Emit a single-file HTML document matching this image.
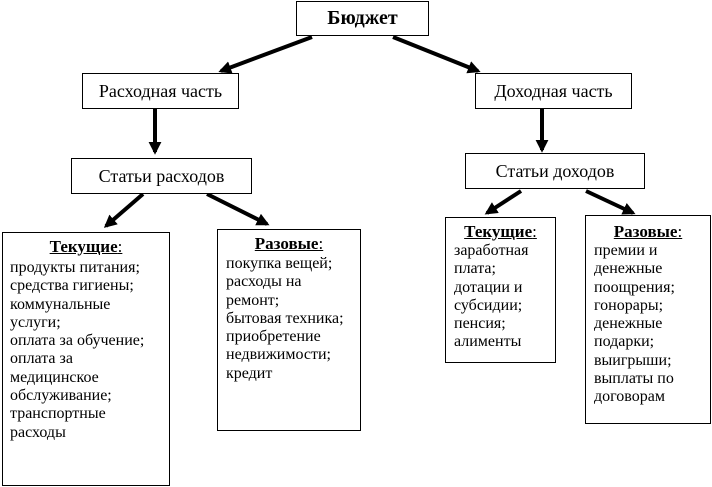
<!DOCTYPE html>
<html><head><meta charset="utf-8"><style>
body{margin:0;width:712px;height:487px;background:#fff;position:relative;overflow:hidden;font-family:"Liberation Serif",serif;color:#000}
.b{position:absolute;border:1px solid #000;box-sizing:border-box;background:#fff}
.c{display:flex;align-items:center;justify-content:center;font-size:18px;white-space:nowrap}
.t{position:absolute;font-size:16px;line-height:18.3px;white-space:nowrap}
.h{position:absolute;font-size:17px;font-weight:bold;text-decoration:underline;white-space:nowrap;text-align:center}
.h span{font-weight:normal;text-decoration:none}
svg{position:absolute;left:0;top:0}
</style></head><body>
<svg width="712" height="487">
<defs><marker id="a" markerWidth="3.2" markerHeight="3.2" refX="2.5" refY="1.6" orient="auto" markerUnits="strokeWidth"><path d="M0,0 L3.2,1.6 L0,3.2z" fill="#000"/></marker></defs>
<g stroke="#000" stroke-width="4" marker-end="url(#a)">
<line x1="312" y1="37" x2="221" y2="71"/>
<line x1="393" y1="37" x2="478" y2="71"/>
<line x1="155" y1="108" x2="155" y2="152"/>
<line x1="542" y1="109" x2="542" y2="150"/>
<line x1="143" y1="194" x2="106" y2="226"/>
<line x1="207" y1="194" x2="267" y2="224"/>
<line x1="521" y1="191" x2="487" y2="213"/>
<line x1="586" y1="191" x2="633" y2="213"/>
</g></svg>
<div class="b c" style="left:296px;top:1px;width:133px;height:35px;font-weight:bold;font-size:20px">Бюджет</div>
<div class="b c" style="left:82px;top:73px;width:157px;height:36px">Расходная часть</div>
<div class="b c" style="left:475px;top:73px;width:157px;height:36px">Доходная часть</div>
<div class="b c" style="left:71px;top:158px;width:181px;height:36px">Статьи расходов</div>
<div class="b c" style="left:465px;top:153px;width:180px;height:36px">Статьи доходов</div>

<div class="b" style="left:2px;top:232px;width:168px;height:254px"></div>
<div class="h" style="left:2px;top:237px;width:168px">Текущие<span>:</span></div>
<div class="t" style="left:10px;top:259px">продукты питания;<br>средства гигиены;<br>коммунальные<br>услуги;<br>оплата за обучение;<br>оплата за<br>медицинское<br>обслуживание;<br>транспортные<br>расходы</div>

<div class="b" style="left:217px;top:229px;width:144px;height:202px"></div>
<div class="h" style="left:217px;top:234px;width:144px">Разовые<span>:</span></div>
<div class="t" style="left:226px;top:255px">покупка вещей;<br>расходы на<br>ремонт;<br>бытовая техника;<br>приобретение<br>недвижимости;<br>кредит</div>

<div class="b" style="left:445px;top:217px;width:111px;height:146px"></div>
<div class="h" style="left:445px;top:222px;width:111px">Текущие<span>:</span></div>
<div class="t" style="left:454px;top:242px">заработная<br>плата;<br>дотации и<br>субсидии;<br>пенсия;<br>алименты</div>

<div class="b" style="left:585px;top:215px;width:126px;height:209px"></div>
<div class="h" style="left:585px;top:222px;width:126px">Разовые<span>:</span></div>
<div class="t" style="left:594px;top:242px">премии и<br>денежные<br>поощрения;<br>гонорары;<br>денежные<br>подарки;<br>выигрыши;<br>выплаты по<br>договорам</div>
</body></html>
